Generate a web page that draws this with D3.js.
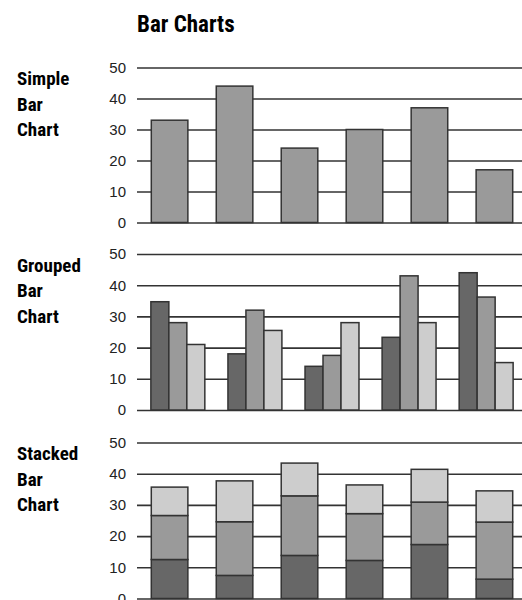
<!DOCTYPE html>
<html>
<head>
<meta charset="utf-8">
<script src="https://cdn.jsdelivr.net/npm/d3@7/dist/d3.min.js"></script>
<style>
  html, body { margin: 0; padding: 0; background: #fff; }
  svg { display: block; }
  .hdr { font-family: "Liberation Sans Narrow", "Roboto Condensed", "DejaVu Sans Condensed", sans-serif; font-weight: bold; fill: #000; }
</style>
</head>
<body>
<script>
// ---- data ----
const simpleCategories = ["A", "B", "C", "D", "E", "F"];
const simpleValues = [33, 44, 24, 30, 37, 17];

const groupCategories = ["A", "B", "C", "D", "E"];
const groupSeries = ["S1", "S2", "S3"];
const groupedS1 = [34.7, 18, 14, 23.3, 44];
const groupedS2 = [28, 32, 17.5, 43, 36.2];
const groupedS3 = [21, 25.5, 28, 28, 15.2];

const stackCategories = ["A", "B", "C", "D", "E", "F"];
const stackS1 = [12.5, 7.4, 13.8, 12.2, 17.3, 6.2];
const stackS2 = [14.1, 17.2, 19.1, 15.0, 13.6, 18.3];
const stackS3 = [9.1, 13.1, 10.5, 9.2, 10.5, 10.0];

const yTicks = [0, 10, 20, 30, 40, 50];
const panelTitles = [["Simple", "Bar", "Chart"], ["Grouped", "Bar", "Chart"], ["Stacked", "Bar", "Chart"]];
const mainTitle = "Bar Charts";

// ---- layout ----
const W = 522, H = 600;
const xLeft = 137, xRight = 522;
const panels = [
  { y0: 222.5, y50: 67.5 },
  { y0: 410, y50: 254 },
  { y0: 598.5, y50: 442.5 }
];
const colors = ["#676767", "#9a9a9a", "#cdcdcd"];
const strokeCol = "#333";

const svg = d3.select("body").append("svg").attr("width", W).attr("height", H);

svg.append("text").attr("class", "hdr").attr("x", 137).attr("y", 31.5)
  .style("font-size", "23px").text(mainTitle);

function drawAxis(p, i) {
  const y = d3.scaleLinear().domain([0, 50]).range([p.y0, p.y50]);
  const g = svg.append("g").attr("transform", `translate(${xLeft},0)`)
    .call(d3.axisLeft(y).tickValues(yTicks).tickFormat(d3.format("d"))
      .tickSizeInner(-(xRight - xLeft)).tickSizeOuter(0).tickPadding(11));
  g.select(".domain").remove();
  g.selectAll(".tick line").attr("stroke", "#333").attr("stroke-width", 1.6);
  g.selectAll(".tick text")
    .style("font-family", "'Liberation Sans', Arial, sans-serif")
    .style("font-size", "15px").style("fill", "#222");
  const lbl = svg.append("text").attr("class", "hdr").style("font-size", "19px");
  panelTitles[i].forEach((t, k) => {
    lbl.append("tspan").attr("x", 17).attr("y", p.y50 + 17.5 + k * 25.5).text(t);
  });
  return y;
}

// Panel 1: simple
{
  const y = drawAxis(panels[0], 0);
  const x = d3.scaleBand().domain(simpleCategories).range([137, 527])
    .paddingInner(0.437).paddingOuter(0.22);
  svg.append("g").selectAll("rect").data(simpleValues).join("rect")
    .attr("x", (d, i) => x(simpleCategories[i]))
    .attr("width", x.bandwidth())
    .attr("y", d => y(d))
    .attr("height", d => y(0) - y(d))
    .attr("fill", colors[1]).attr("stroke", strokeCol).attr("stroke-width", 1.5);
}

// Panel 2: grouped
{
  const y = drawAxis(panels[1], 1);
  const x0 = d3.scaleBand().domain(groupCategories).range([137, 527])
    .paddingInner(0.3).paddingOuter(0.18);
  const x1 = d3.scaleBand().domain(groupSeries).range([0, x0.bandwidth()]);
  const seriesVals = [groupedS1, groupedS2, groupedS3];
  const rows = [];
  groupCategories.forEach((c, ci) => groupSeries.forEach((s, si) => rows.push({ c, s, si, v: seriesVals[si][ci] })));
  svg.append("g").selectAll("rect").data(rows).join("rect")
    .attr("x", d => x0(d.c) + x1(d.s))
    .attr("width", x1.bandwidth())
    .attr("y", d => y(d.v))
    .attr("height", d => y(0) - y(d.v))
    .attr("fill", d => colors[d.si]).attr("stroke", strokeCol).attr("stroke-width", 1.5);
}

// Panel 3: stacked
{
  const y = drawAxis(panels[2], 2);
  const x = d3.scaleBand().domain(stackCategories).range([137, 527])
    .paddingInner(0.437).paddingOuter(0.22);
  const table = stackCategories.map((c, i) => ({ c, S1: stackS1[i], S2: stackS2[i], S3: stackS3[i] }));
  const stacked = d3.stack().keys(["S1", "S2", "S3"])(table);
  stacked.forEach((layer, li) => {
    svg.append("g").selectAll("rect").data(layer).join("rect")
      .attr("x", d => x(d.data.c))
      .attr("width", x.bandwidth())
      .attr("y", d => y(d[1]))
      .attr("height", d => y(d[0]) - y(d[1]))
      .attr("fill", colors[li]).attr("stroke", strokeCol).attr("stroke-width", 1.5);
  });
}
</script>
</body>
</html>
